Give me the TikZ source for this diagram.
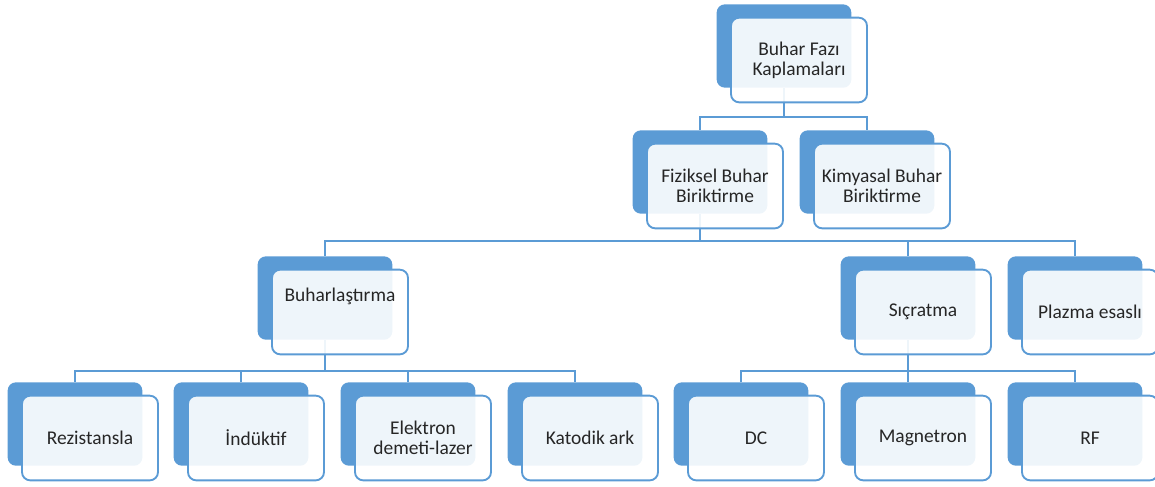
\documentclass[tikz,border=0pt]{standalone}
\usepackage{fontspec}
\setmainfont{Carlito}
\usetikzlibrary{positioning, backgrounds}
\definecolor{tileblue}{HTML}{5B9BD5}
\definecolor{inkgray}{HTML}{262626}

\begin{document}
\begin{tikzpicture}[x=0.015cm, y=-0.015cm,
            tile/.style={rectangle, rounded corners=3.5pt, fill=tileblue,
                         minimum width=2.02cm, minimum height=1.25cm, inner sep=0pt},
            card/.style={rectangle, rounded corners=3.5pt, draw=tileblue, line width=0.8pt,
                         fill=white, fill opacity=0.9, text opacity=1, text=inkgray,
                         minimum width=2.04cm, minimum height=1.27cm, inner sep=0pt,
                         align=center, font=\fontsize{8.3}{8.6}\selectfont},
            wire/.style={draw=tileblue, line width=1pt}
        ]
            \useasboundingbox (0,0) rectangle (1155,486);

            % level 0
            \node[tile] (top) at (784,46) {};
            \node[card] (topc) at ([shift={(15,14)}]top) {Buhar Fazı\\Kaplamaları};

            % level 1
            \node[tile] (fiz) at (700,172) {};
            \node[card] (fizc) at ([shift={(15,14)}]fiz) {Fiziksel Buhar\\Biriktirme};
            \node[tile] (kim) at (867,172) {};
            \node[card] (kimc) at ([shift={(15,14)}]kim) {Kimyasal Buhar\\Biriktirme};

            % level 2
            \node[tile] (buh) at (325,298) {};
            \node[card] (buhc) at ([shift={(15,14)}]buh) {Buharlaştırma\\[6pt]{}};
            \node[tile] (sic) at (908,298) {};
            \node[card] (sicc) at ([shift={(15,14)}]sic) {Sıçratma};
            \node[tile] (pla) at (1075,298) {};
            \node[card] (plac) at ([shift={(15,14)}]pla) {Plazma esaslı};

            % level 3
            \node[tile] (rez) at (75,424) {};
            \node[card] (rezc) at ([shift={(15,14)}]rez) {Rezistansla};
            \node[tile] (ind) at (241,424) {};
            \node[card] (indc) at ([shift={(15,14)}]ind) {İndüktif};
            \node[tile] (ele) at (408,424) {};
            \node[card] (elec) at ([shift={(15,14)}]ele) {Elektron\\demeti-lazer};
            \node[tile] (kat) at (575,424) {};
            \node[card] (katc) at ([shift={(15,14)}]kat) {Katodik ark};
            \node[tile] (dc) at (741,424) {};
            \node[card] (dcc) at ([shift={(15,14)}]dc) {DC};
            \node[tile] (mag) at (908,424) {};
            \node[card] (magc) at ([shift={(15,14)}]mag) {Magnetron};
            \node[tile] (rf) at (1075,424) {};
            \node[card] (rfc) at ([shift={(15,14)}]rf) {RF};

            % connectors behind the boxes
            \begin{scope}[on background layer]
                \coordinate (busA) at (0,117);
                \coordinate (busB) at (0,241);
                \coordinate (busC) at (0,371);

                \draw[wire] (top.south) -- (top.south |- busA) -| (fiz.north);
                \draw[wire] (top.south |- busA) -| (kim.north);

                \draw[wire] (fiz.south) -- (fiz.south |- busB) -| (buh.north);
                \draw[wire] (fiz.south |- busB) -| (sic.north);
                \draw[wire] (fiz.south |- busB) -| (pla.north);

                \draw[wire] (buh.south) -- (buh.south |- busC) -| (rez.north);
                \draw[wire] (buh.south |- busC) -| (ind.north);
                \draw[wire] (buh.south |- busC) -| (ele.north);
                \draw[wire] (buh.south |- busC) -| (kat.north);

                \draw[wire] (sic.south) -- (sic.south |- busC) -| (dc.north);
                \draw[wire] (sic.south |- busC) -| (mag.north);
                \draw[wire] (sic.south |- busC) -| (rf.north);
            \end{scope}
        \end{tikzpicture}
\end{document}
